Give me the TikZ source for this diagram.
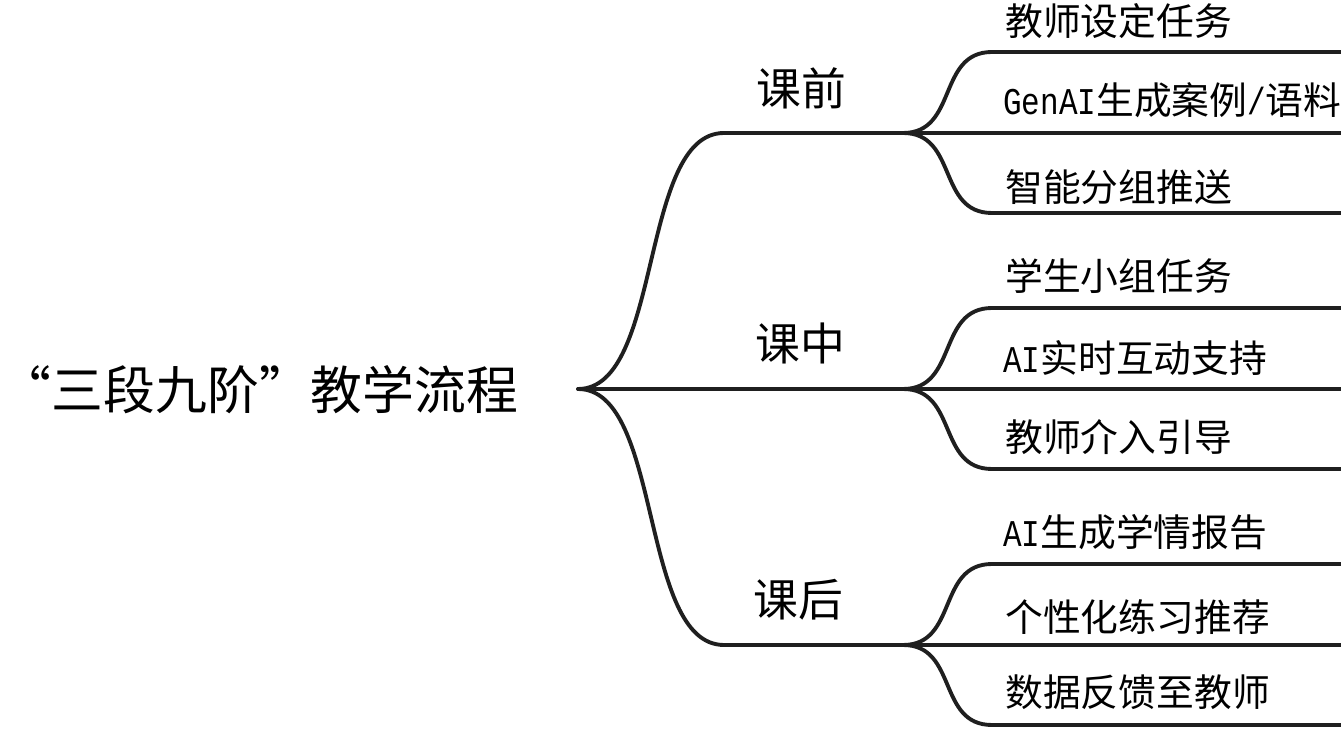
\documentclass[tikz,border=0pt]{standalone}
\usepackage{fontspec}
\setmainfont{Noto Sans CJK SC}
\newfontfamily\latinfont[FakeStretch=0.82]{Liberation Mono}
\usetikzlibrary{calc}

\tikzset{
  branch/.style={line width=2.2pt, draw=black!88, line cap=round, line join=round},
  rootlabel/.style={font=\fontsize{29.5}{36}\selectfont, inner sep=0pt},
  phaselabel/.style={font=\fontsize{25.5}{30}\selectfont, inner sep=0pt},
  leaflabel/.style={font=\fontsize{21.5}{26}\selectfont, inner sep=0pt, anchor=west},
}

\begin{document}
\begin{tikzpicture}[x=0.02cm,y=-0.02cm]
    \useasboundingbox (0,0) rectangle (1341,732); % keeps the page size...

    \node[rootlabel] (root) at (259,390) {“三段九阶”教学流程};
    \coordinate (hub) at (578,389);
    \coordinate (phasex) at (724,0);
    \coordinate (leafx) at (992,0);

    % the three forks
    \coordinate (pre) at (903,133);
    \coordinate (in) at (903,389);
    \coordinate (post) at (903,645);

    \coordinate (preA) at (1341,52);
    \coordinate (preB) at (1341,133);
    \coordinate (preC) at (1341,213);
    \coordinate (inA) at (1341,308);
    \coordinate (inB) at (1341,389);
    \coordinate (inC) at (1341,469);
    \coordinate (postA) at (1341,564);
    \coordinate (postB) at (1341,645);
    \coordinate (postC) at (1341,725);

    \draw[branch] (hub) .. controls +(85,0) and +(-85,0) .. (pre -| phasex) -- (pre);
    \draw[branch] (hub) -- (in);
    \draw[branch] (hub) .. controls +(85,0) and +(-85,0) .. (post -| phasex) -- (post);

    \draw[branch] (pre) .. controls +(55,0) and +(-55,0) .. (preA -| leafx) -- (preA);
    \draw[branch] (pre) -- (preB);
    \draw[branch] (pre) .. controls +(55,0) and +(-55,0) .. (preC -| leafx) -- (preC);

    \draw[branch] (in) .. controls +(55,0) and +(-55,0) .. (inA -| leafx) -- (inA);
    \draw[branch] (in) -- (inB);
    \draw[branch] (in) .. controls +(55,0) and +(-55,0) .. (inC -| leafx) -- (inC);

    \draw[branch] (post) .. controls +(55,0) and +(-55,0) .. (postA -| leafx) -- (postA);
    \draw[branch] (post) -- (postB);
    \draw[branch] (post) .. controls +(55,0) and +(-55,0) .. (postC -| leafx) -- (postC);

    \node[phaselabel] (preLabel) at (801,88) {课前};
    \node[phaselabel] (inLabel) at (800,343) {课中};
    \node[phaselabel] (postLabel) at (798,600) {课后};

    \node[leaflabel] (preA1) at (1005,21) {教师设定任务};
    \node[leaflabel] (preB1) at (1003,100) {{\latinfont GenAI}生成案例{\latinfont /}语料};
    \node[leaflabel] (preC1) at (1005,187) {智能分组推送};
    \node[leaflabel] (inA1) at (1005,276) {学生小组任务};
    \node[leaflabel] (inB1) at (1003,358) {{\latinfont AI}实时互动支持};
    \node[leaflabel] (inC1) at (1005,437) {教师介入引导};
    \node[leaflabel] (postA1) at (1003,532) {{\latinfont AI}生成学情报告};
    \node[leaflabel] (postB1) at (1005,617) {个性化练习推荐};
    \node[leaflabel] (postC1) at (1005,692) {数据反馈至教师};
  \end{tikzpicture}
\end{document}
